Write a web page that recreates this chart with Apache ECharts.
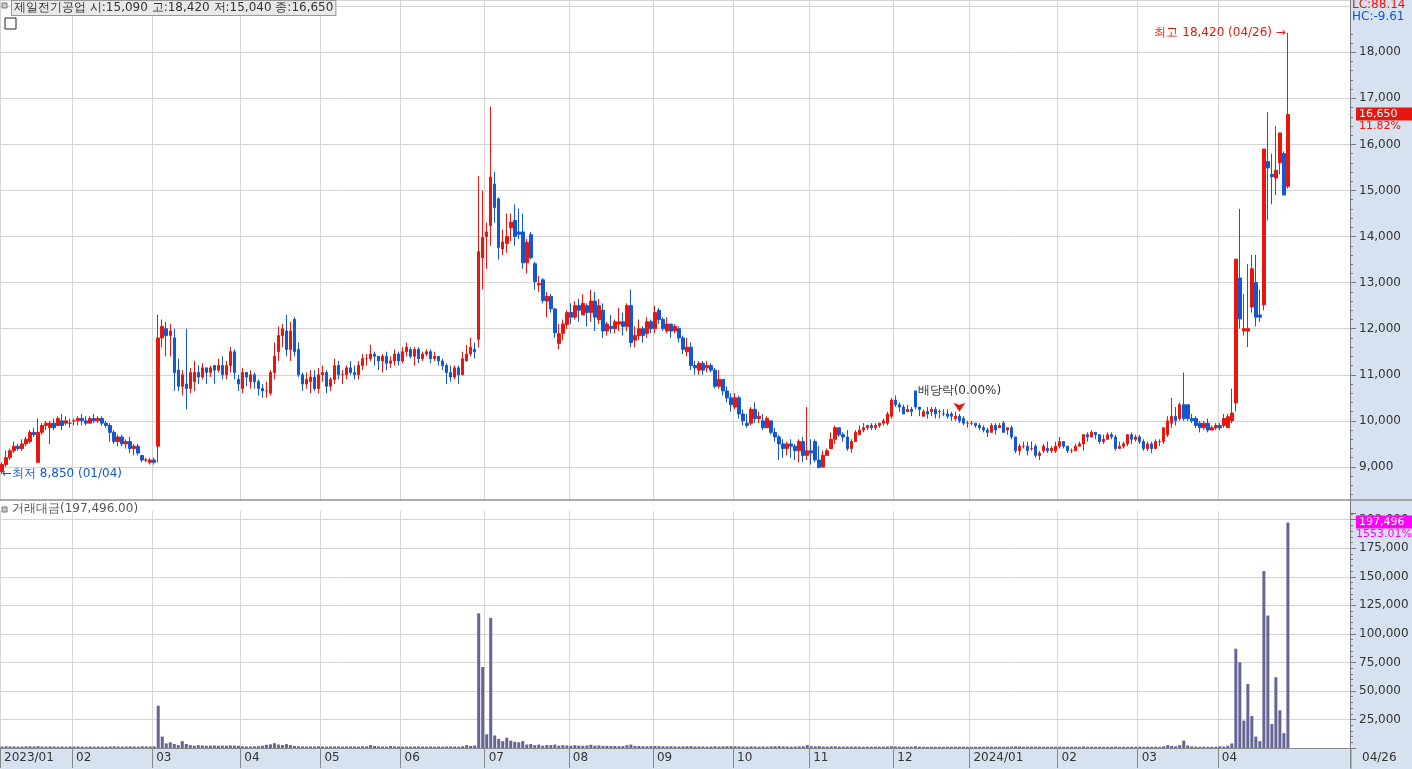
<!DOCTYPE html>
<html>
<head>
<meta charset="utf-8">
<script src="https://cdn.jsdelivr.net/npm/echarts@6/dist/echarts.min.js"></script>
<style>
html,body{margin:0;padding:0;background:#fff;}
#chart{width:1412px;height:769px;}
</style>
</head>
<body>
<div id="chart"></div>
<script>
// months shown on the axis and number of trading days in each
var monthNames = ['2023/01','02','03','04','05','06','07','08','09','10','11','12','2024/01','02','03','04'];
var monthDays = [18,20,22,20,20,21,21,21,20,19,21,19,22,20,20,18];
var padDays = 15;

// daily [open, close, low, high]
var ohlc = [
// 2023/01
[8900,9050,8850,9100],[9050,9200,9000,9350],[9200,9350,9150,9400],[9350,9450,9300,9550],[9450,9400,9350,9500],[9400,9500,9350,9600],[9500,9600,9450,9650],[9550,9750,9500,9800],[9750,9700,9650,9850],[9100,9750,9100,10050],[9750,9900,9700,9950],[9900,9950,9800,10000],[9850,9950,9500,10000],[9950,9850,9800,10050],[9900,10050,9900,10100],[10000,9900,9800,10150],[9950,10000,9900,10100],[9950,9950,9850,10050],
// 02
[10000,10000,9900,10050],[10000,10050,9900,10100],[10050,10000,9900,10150],[10000,9950,9900,10100],[9950,10050,9950,10100],[10050,10000,9950,10150],[10000,10050,9950,10100],[10050,9950,9900,10100],[9950,9900,9850,10000],[9900,9750,9550,9950],[9750,9550,9500,9800],[9550,9650,9450,9700],[9650,9500,9450,9700],[9500,9550,9400,9600],[9550,9400,9300,9650],[9400,9450,9250,9500],[9450,9300,9250,9500],[9250,9150,9100,9250],[9150,9150,9100,9200],[9100,9150,9050,9200],
// 03
[9150,9100,9050,9200],[9450,11800,9100,12300],[11800,12050,11600,12200],[12000,11850,11400,12150],[11850,11950,11400,12100],[11800,11050,10650,12000],[11100,10750,10650,11350],[10750,11000,10550,11100],[10800,10700,10250,12000],[10700,11050,10600,11150],[10850,11050,10650,11300],[11050,10950,10800,11200],[10950,11150,10900,11250],[11150,11050,10800,11150],[11050,11150,10950,11200],[11200,11100,10800,11200],[11100,11200,11050,11350],[11200,11000,10900,11400],[11000,11200,10900,11300],[11200,11500,11050,11600],[11500,11050,10900,11550],[10900,10800,10650,11000],
// 04
[10700,11050,10600,11150],[11050,10950,10750,11050],[10850,11000,10700,11100],[11000,10850,10700,11050],[10850,10700,10550,10900],[10700,10650,10500,10800],[10650,10650,10500,10850],[10600,11050,10550,11100],[11050,11400,10900,11700],[11500,11850,11300,12050],[11850,12000,11600,12100],[11950,11550,11400,12300],[11550,11950,11300,12150],[12200,11500,11400,12250],[11550,11000,10950,11700],[11000,10800,10650,11050],[10800,10900,10700,11050],[10850,10950,10600,11100],[10950,10700,10650,11100],[10700,11000,10600,11150],
// 05
[11000,11050,10850,11200],[11050,10750,10600,11100],[10750,10900,10650,10950],[10900,11200,10800,11350],[11200,11000,10900,11300],[11000,11000,10800,11100],[11000,11150,10900,11200],[11150,11050,11000,11300],[11050,11000,10900,11200],[11000,11200,10900,11300],[11200,11350,11100,11450],[11350,11350,11200,11450],[11350,11450,11300,11650],[11450,11400,11200,11500],[11400,11300,11100,11400],[11300,11400,11050,11450],[11400,11250,11100,11500],[11250,11300,11150,11400],[11300,11450,11200,11550],[11450,11300,11200,11500],
// 06
[11300,11500,11250,11600],[11500,11600,11400,11700],[11550,11400,11350,11600],[11400,11550,11200,11600],[11550,11350,11250,11600],[11350,11450,11300,11500],[11450,11500,11400,11550],[11500,11350,11250,11550],[11350,11400,11300,11500],[11400,11300,11200,11400],[11300,11200,11100,11350],[11200,11050,10800,11250],[11050,10950,10850,11200],[10950,11150,10900,11200],[11150,11000,10800,11200],[11000,11350,11250,11500],[11300,11450,11300,11650],[11450,11600,11400,11800],[11550,11500,11350,11700],[11770,13670,11600,15310],[13540,13980,12850,15000],
// 07
[14000,14100,13300,14300],[14240,15290,13800,16820],[15140,14630,14300,15400],[14820,13760,13500,14850],[13730,13880,13600,14150],[13850,14000,13650,14500],[14190,14310,13900,14500],[14350,14000,13800,14700],[14100,14050,13950,14600],[14100,13430,13300,14500],[13430,13870,13200,13950],[14040,13540,13500,14100],[13410,13020,12850,13450],[12950,12980,12800,13150],[13060,12610,12550,13100],[12600,12700,12250,12800],[12700,12430,12350,12750],[12430,11910,11800,12450],[11680,11890,11550,12100],[11900,12100,11750,12200],[12090,12350,12000,12400],
// 08
[12350,12250,12100,12550],[12250,12500,12200,12600],[12500,12400,12150,12650],[12300,12550,12300,12750],[12500,12350,12050,12550],[12350,12600,12150,12850],[12600,12250,11950,12800],[12200,12500,12100,12650],[12400,11950,11800,12550],[11950,12100,11850,12150],[12050,12000,11900,12300],[12000,12150,11900,12200],[12100,12150,11950,12450],[12150,12050,11850,12350],[12050,12500,11950,12550],[12500,11700,11600,12850],[11750,11850,11600,12050],[11850,12000,11750,12200],[12000,11850,11700,12050],[11900,12150,11800,12250],[12150,12000,11900,12200],
// 09
[12000,12350,11900,12500],[12400,12200,12100,12450],[12200,12000,11950,12250],[11950,12100,11900,12250],[12100,11950,11800,12100],[11950,12050,11900,12100],[12000,11800,11700,12050],[11800,11550,11450,11850],[11500,11600,11400,11800],[11600,11200,11100,11700],[11200,11150,11000,11300],[11100,11250,11000,11300],[11250,11100,11000,11300],[11150,11200,11050,11300],[11200,11100,11050,11250],[11100,10750,10700,11150],[10750,10900,10700,11100],[10900,10650,10550,10900],[10650,10500,10400,10750],[10500,10350,10200,10600],
// 10
[10300,10500,10250,10600],[10500,10150,10050,10550],[10150,10000,9900,10250],[9950,9900,9850,10150],[9950,10250,9900,10300],[10250,10050,9950,10400],[10050,10100,9950,10200],[10000,9850,9800,10150],[9850,10050,9900,10100],[10000,9750,9700,10000],[9750,9650,9550,9850],[9650,9500,9150,9700],[9500,9400,9200,9600],[9400,9500,9250,9550],[9500,9450,9200,9600],[9450,9350,9150,9500],[9350,9550,9100,9600],[9550,9250,9100,9650],[9250,9350,9150,10300],
// 11
[9350,9300,9050,9600],[9550,9150,9100,9600],[9150,8990,8970,9450],[9000,9250,9000,9350],[9250,9350,9250,9400],[9400,9600,9500,9750],[9600,9850,9500,9900],[9850,9700,9650,9850],[9700,9650,9550,9750],[9650,9400,9350,9800],[9400,9550,9300,9600],[9550,9750,9550,9800],[9700,9800,9700,9900],[9800,9850,9750,9950],[9850,9900,9800,9900],[9900,9850,9800,9950],[9850,9900,9800,9950],[9900,9950,9850,9950],[9950,10000,9900,10050],[9950,10150,9900,10200],[10100,10450,10050,10500],
// 12
[10450,10350,10300,10550],[10350,10300,10200,10400],[10300,10150,10150,10350],[10200,10250,10200,10350],[10250,10200,10100,10300],[10650,10300,10250,10650],[10300,10250,10100,10300],[10100,10200,10100,10250],[10200,10150,10050,10300],[10200,10250,10100,10300],[10250,10150,10050,10300],[10200,10200,10050,10250],[10150,10150,10100,10250],[10150,10100,10050,10250],[10150,10100,10000,10200],[10050,10100,10000,10200],[10100,10000,9950,10150],[10050,9950,9900,10100],[9950,9950,9850,10000],
// 2024/01
[9950,9950,9900,10000],[9950,9900,9850,9950],[9900,9850,9800,9950],[9850,9800,9750,9900],[9800,9750,9650,9850],[9750,9900,9750,9950],[9900,9800,9700,9950],[9850,9900,9850,9950],[9950,9750,9750,10000],[9800,9850,9700,9850],[9850,9650,9600,9900],[9650,9350,9300,9650],[9350,9450,9250,9500],[9450,9450,9400,9550],[9450,9350,9250,9550],[9400,9400,9350,9550],[9450,9250,9200,9500],[9250,9300,9150,9350],[9350,9450,9300,9500],[9400,9350,9300,9550],[9350,9400,9300,9450],[9350,9450,9300,9550],
// 02
[9450,9550,9400,9650],[9550,9450,9400,9550],[9450,9350,9300,9450],[9350,9350,9300,9400],[9350,9450,9350,9500],[9450,9500,9450,9550],[9500,9700,9350,9700],[9700,9650,9550,9750],[9650,9750,9650,9800],[9750,9700,9600,9750],[9700,9550,9500,9700],[9550,9600,9500,9700],[9600,9700,9600,9750],[9700,9650,9600,9750],[9650,9400,9350,9700],[9400,9450,9400,9550],[9450,9500,9400,9550],[9500,9700,9450,9700],[9700,9600,9500,9750],[9600,9650,9550,9700],
// 03
[9650,9550,9500,9700],[9550,9400,9350,9600],[9400,9500,9350,9550],[9500,9400,9300,9550],[9400,9550,9400,9600],[9550,9550,9450,9600],[9550,9850,9500,9850],[9700,10000,9650,10100],[9950,10100,9850,10500],[10100,10000,9900,10300],[10050,10350,10000,10400],[10350,10050,10000,11050],[10350,10050,10000,10350],[10050,10000,9950,10150],[10050,9900,9850,10100],[9950,9850,9750,10000],[9850,9950,9800,10000],[9950,9800,9750,10050],[9800,9850,9800,9900],[9850,9900,9800,9950],
// 04
[9900,9850,9800,9950],[9900,10050,9850,10150],[9850,10090,9850,10150],[10000,10170,9950,10700],[10390,13510,10200,13510],[13100,12210,12000,14600],[11950,12000,11850,12750],[11950,12000,11600,13400],[12470,13300,12350,13600],[13000,12250,12050,13600],[12300,12250,12150,12850],[12520,15900,12400,15900],[15630,15490,14350,16700],[15350,15300,14700,15800],[15270,15440,14900,16400],[15600,16250,15350,16250],[15800,14900,14900,15850],[15090,16650,15040,18420]
];

// daily trading value (million KRW)
var turnover = [
// 2023/01
1200,1500,1300,1400,1200,1300,1400,1500,1300,1600,1300,1200,1400,1300,1200,1300,1200,1300,
// 02
1200,1300,1200,1100,1300,1200,1300,1200,1100,1400,1500,1300,1200,1300,1400,1300,1200,1500,1400,1300,
// 03
1400,37000,10000,4000,5000,3500,2500,6000,3500,2500,2000,2500,2200,2000,2100,2200,2000,2100,2000,2300,2100,2000,
// 04
1500,1400,1300,1500,1600,2000,2800,3200,4200,3000,2600,3400,2500,1800,1500,1400,1300,1400,1300,1500,
// 05
1300,1200,1300,1400,1300,1200,1300,1400,1300,1200,1500,1400,2500,1800,1400,1300,1200,1800,1400,1300,
// 06
1200,1300,1200,1300,1400,1300,1200,1300,1200,1300,1200,1300,1400,1300,1200,1500,2500,1800,2200,118000,71000,
// 07
12000,114000,11000,8000,6000,9000,6500,5500,5000,6000,3000,3500,2500,3000,2000,2600,2500,3000,2000,2500,2200,
// 08
2000,2400,2100,1900,2200,2800,2000,2200,1800,1900,1700,1800,1600,1700,2500,3000,1800,1700,1600,1500,1600,
// 09
1800,1600,1500,1400,1500,1400,1300,1400,1500,1600,1300,1400,1300,1200,1300,1500,1300,1400,1500,1600,
// 10
1500,1400,1300,1200,1400,1300,1200,1300,1200,1400,1500,1600,1400,1300,1200,1300,1400,1500,2500,
// 11
1500,1400,1600,1300,1200,1400,1500,1300,1200,1300,1200,1300,1200,1100,1200,1100,1200,1100,1200,1300,1500,
// 12
1400,1200,1100,1200,1100,1600,1200,1100,1000,1100,1000,1100,1000,1100,1000,1100,1000,1100,1000,
// 2024/01
1000,1100,1000,1100,1200,1100,1000,1100,1000,1100,1200,1500,1300,1100,1200,1100,1200,1100,1000,1100,1000,1100,
// 02
1100,1000,1100,1000,1100,1000,1300,1100,1000,1100,1000,1100,1000,1100,1200,1000,1100,1000,1100,1000,
// 03
1100,1000,1100,1000,1100,1000,1500,2500,1800,1500,2500,6500,2200,1400,1200,1100,1200,1100,1000,1100,
// 04
1500,1200,2000,4000,87000,75000,24000,56000,28000,10000,6000,155000,116000,21000,62000,33000,13000,197496
];

var priceTicks = {min: 8000, max: 19134, interval: 1000};
var turnoverTicks = {min: 0, max: 215500, interval: 25000};
var exDividendDay = 239;

var categories = [];
var monthStart = {};
monthNames.forEach(function (m, mi) {
    for (var d = 0; d < monthDays[mi]; d++) {
        if (d === 0) monthStart[categories.length] = m;
        categories.push(m + '#' + d);
    }
});
var nData = categories.length;
for (var p = 0; p < padDays; p++) categories.push('pad' + p);

var candleData = ohlc.slice();
var volData = turnover.slice();
for (var q = 0; q < padDays; q++) { candleData.push('-'); volData.push('-'); }

var isMonth = function (idx) { return monthStart[idx] !== undefined; };
var RED = '#e8160c', BLUE = '#1358d0', MAGENTA = '#ff00ff', PANEL = '#d6e2f0';
var fmt = function (v) { return v.toLocaleString('en-US'); };
var lastPrice = ohlc[ohlc.length - 1][1];
var lastTurnover = turnover[turnover.length - 1];

var chart = echarts.init(document.getElementById('chart'));
var option = {
    animation: false,
    backgroundColor: '#ffffff',
    textStyle: {fontFamily: 'DejaVu Sans', fontSize: 12},
    graphic: [
        {type: 'rect', z: -10, shape: {x: 1350, y: 0, width: 62, height: 769}, style: {fill: PANEL}},
        {type: 'rect', z: -10, shape: {x: 0, y: 749, width: 1412, height: 20}, style: {fill: PANEL}},
        {type: 'line', z: 50, shape: {x1: 0, y1: 500, x2: 1412, y2: 500}, style: {stroke: '#909090', lineWidth: 1.5}},
        {type: 'rect', z: 60, shape: {x: 0, y: 501, width: 1350, height: 10}, style: {fill: '#ffffff'}},
        {type: 'rect', z: 60, shape: {x: 1351, y: 501, width: 61, height: 12}, style: {fill: PANEL}},
        {type: 'rect', z: 60, shape: {x: 1351, y: 0, width: 61, height: 26}, style: {fill: PANEL}},
        {type: 'rect', z: 60, shape: {x: 2, y: 3, width: 5, height: 5}, style: {fill: '#ccc', stroke: '#777'}},
        {type: 'rect', z: 60, shape: {x: 5, y: 18, width: 11, height: 11}, style: {fill: '#fff', stroke: '#222'}},
        {type: 'text', z: 60, left: 11, top: 0, style: {text: '제일전기공업 시:15,090 고:18,420 저:15,040 종:16,650', fill: '#333', font: '12px DejaVu Sans', backgroundColor: '#e9e9e9', borderColor: '#999', borderWidth: 1, padding: [1, 2]}},
        {type: 'rect', z: 60, shape: {x: 2, y: 507, width: 5, height: 5}, style: {fill: '#ccc', stroke: '#777'}},
        {type: 'text', z: 60, left: 12, top: 503, style: {text: '거래대금(197,496.00)', fill: '#555', font: '12px DejaVu Sans'}},
        {type: 'text', z: 61, left: 1352, top: -1, style: {text: 'LC:88.14', fill: RED, font: '12px DejaVu Sans'}},
        {type: 'text', z: 61, left: 1352, top: 11, style: {text: 'HC:-9.61', fill: BLUE, font: '12px DejaVu Sans'}},
        {type: 'text', z: 60, left: 1362, top: 752, style: {text: '04/26', fill: '#333', font: '12px DejaVu Sans'}},
        {type: 'line', z: 60, shape: {x1: 1351, y1: 749, x2: 1351, y2: 769}, style: {stroke: '#888'}}
    ],
    grid: [
        {left: 0, right: 62, top: 0, bottom: 256},
        {left: 0, right: 62, top: 502, bottom: 21}
    ],
    xAxis: [
        {gridIndex: 0, type: 'category', data: categories, boundaryGap: true,
         axisLine: {show: false}, axisTick: {show: false}, axisLabel: {show: false},
         splitLine: {show: true, interval: isMonth, lineStyle: {color: '#d4d4d4'}}},
        {gridIndex: 1, type: 'category', data: categories, boundaryGap: true,
         axisLine: {show: true, lineStyle: {color: '#888'}},
         axisTick: {show: true, interval: isMonth, length: 20, lineStyle: {color: '#888'}},
         axisLabel: {interval: isMonth, align: 'left', margin: 4, padding: [0, 0, 0, 2], color: '#333',
                     formatter: function (v, i) { return monthStart[i] || ''; }},
         splitLine: {show: true, interval: isMonth, lineStyle: {color: '#d4d4d4'}}}
    ],
    yAxis: [
        {gridIndex: 0, position: 'right', min: priceTicks.min, max: priceTicks.max, interval: priceTicks.interval,
         axisLine: {show: true, lineStyle: {color: '#777'}},
         axisTick: {show: true, length: 6, lineStyle: {color: '#777'}},
         minorTick: {show: true, splitNumber: 5, length: 3, lineStyle: {color: '#777'}},
         axisLabel: {color: '#333', margin: 9, showMinLabel: false, showMaxLabel: false, formatter: fmt},
         splitLine: {show: true, showMinLine: false, lineStyle: {color: '#d4d4d4'}}},
        {gridIndex: 1, position: 'right', min: turnoverTicks.min, max: turnoverTicks.max, interval: turnoverTicks.interval,
         axisLine: {show: true, lineStyle: {color: '#777'}},
         axisTick: {show: true, length: 6, lineStyle: {color: '#777'}},
         minorTick: {show: true, splitNumber: 5, length: 3, lineStyle: {color: '#777'}},
         axisLabel: {color: '#333', margin: 9, showMinLabel: false, showMaxLabel: false, formatter: fmt},
         splitLine: {show: true, showMinLine: false, showMaxLine: false, lineStyle: {color: '#d4d4d4'}}}
    ],
    series: [
        {type: 'candlestick', xAxisIndex: 0, yAxisIndex: 0, data: candleData, barWidth: 3,
         itemStyle: {color: RED, color0: BLUE, borderColor: RED, borderColor0: BLUE, borderWidth: 1},
         markPoint: {
             symbol: 'rect', symbolSize: 0, silent: true,
             data: [
                 {coord: [nData - 1, 18420], label: {show: true, position: 'left', distance: 2, color: RED, fontSize: 12, formatter: '최고 18,420 (04/26) →'}},
                 {coord: [0, 8850], label: {show: true, position: 'right', distance: 0, color: BLUE, fontSize: 12, formatter: '←최저 8,850 (01/04)'}},
                 {coord: [exDividendDay, 10200], symbol: 'arrow', symbolSize: [9, 9], symbolRotate: 180, itemStyle: {color: RED},
                  label: {show: true, position: 'top', distance: 6, color: '#333', fontSize: 12, formatter: '배당락(0.00%)'}}
             ]
         }},
        {type: 'bar', xAxisIndex: 1, yAxisIndex: 1, data: volData, barWidth: 3,
         itemStyle: {color: '#646495'}}
    ]
};
chart.setOption(option);

// last-value tags on the right axes, placed through the axis scales
var yPrice = chart.convertToPixel({yAxisIndex: 0}, lastPrice);
var yTurn = chart.convertToPixel({yAxisIndex: 1}, lastTurnover);
var tagFont = '11px DejaVu Sans';
var tags = option.graphic.concat([
    {type: 'rect', z: 70, shape: {x: 1356, y: yPrice - 7, width: 56, height: 13}, style: {fill: RED}},
    {type: 'text', z: 71, x: 1359, y: yPrice - 6, style: {text: fmt(lastPrice), fill: '#fff', font: tagFont}},
    {type: 'text', z: 71, x: 1359, y: yPrice + 6, style: {text: '11.82%', fill: RED, font: tagFont}},
    {type: 'rect', z: 70, shape: {x: 1356, y: yTurn - 7, width: 56, height: 13}, style: {fill: MAGENTA}},
    {type: 'text', z: 71, x: 1359, y: yTurn - 6, style: {text: fmt(lastTurnover), fill: '#fff', font: tagFont}},
    {type: 'text', z: 71, x: 1356, y: yTurn + 6, style: {text: '1553.01%', fill: MAGENTA, font: tagFont}}
]);
chart.setOption({graphic: tags});
window.addEventListener('resize', function () { chart.resize(); });
</script>
</body>
</html>
